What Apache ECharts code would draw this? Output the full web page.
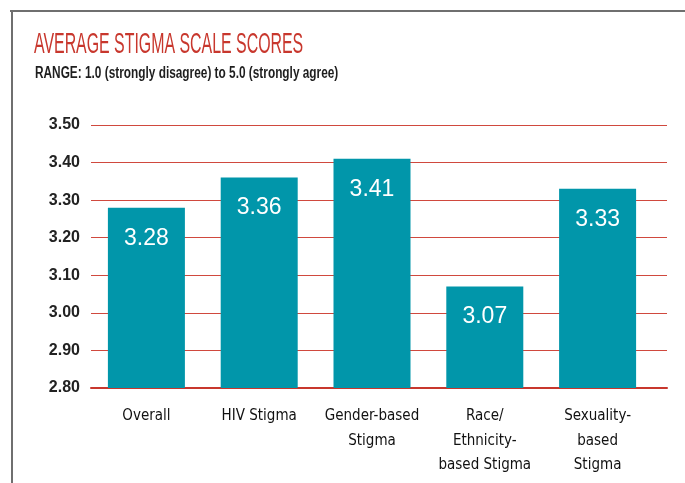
<!DOCTYPE html>
<html>
<head>
<meta charset="utf-8">
<script src="https://cdn.jsdelivr.net/npm/echarts@6/dist/echarts.min.js"></script>
<style>
  html, body { margin: 0; padding: 0; background: #fff; }
  #chart { width: 685px; height: 483px; }
</style>
</head>
<body>
<div id="chart"></div>
<script>
// 标题
const titleText = 'AVERAGE STIGMA SCALE SCORES';
const subtitleText = 'RANGE: 1.0 (strongly disagree) to 5.0 (strongly agree)';
// 类别
const categories = ['Overall', 'HIV Stigma', 'Gender-based\nStigma', 'Race/\nEthnicity-\nbased Stigma', 'Sexuality-\nbased\nStigma'];
// 数值
const scores = [3.28, 3.36, 3.41, 3.07, 3.33];

const chart = echarts.init(document.getElementById('chart'));

const condensed = 'DejaVu Sans Condensed, Liberation Sans Narrow, Liberation Sans';
const gridTop = 125;
const gridBottom = 95;

const option = {
    backgroundColor: '#fff',
    animation: false,
    graphic: [
        // 外框
        { type: 'line', shape: { x1: 10, y1: 11, x2: 685, y2: 11 }, style: { stroke: '#6f6f6f', lineWidth: 2 } },
        { type: 'line', shape: { x1: 12, y1: 10, x2: 12, y2: 483 }, style: { stroke: '#6f6f6f', lineWidth: 2 } },
        // 标题（横向压缩模拟窄字体）
        {
            type: 'text', x: 34, y: 30, scaleX: 0.53,
            style: {
                text: titleText, fill: '#c8372d',
                fontFamily: 'Liberation Sans', fontSize: 30,
                textVerticalAlign: 'top'
            }
        },
        {
            type: 'text', x: 35, y: 66, scaleX: 0.74,
            style: {
                text: subtitleText, fill: '#1e1e1e',
                fontFamily: 'Liberation Sans', fontWeight: 'bold', fontSize: 16,
                textVerticalAlign: 'top'
            }
        }
    ],
    grid: [
        { left: 91, right: 18, top: gridTop, bottom: gridBottom },
        { left: 90, right: 31, top: gridTop, bottom: gridBottom }
    ],
    xAxis: [
        {
            gridIndex: 0,
            type: 'category',
            data: categories,
            axisLine: { lineStyle: { color: '#c8372d', width: 2 } },
            axisTick: { show: false },
            axisLabel: { show: false }
        },
        {
            gridIndex: 1,
            type: 'category',
            data: categories,
            axisLine: { show: false },
            axisTick: { show: false },
            axisLabel: {
                margin: 16,
                fontFamily: condensed,
                fontSize: 15,
                lineHeight: 24.5,
                color: '#111',
                interval: 0
            }
        }
    ],
    yAxis: [
        {
            gridIndex: 0,
            type: 'value',
            min: 2.8,
            max: 3.5,
            interval: 0.1,
            axisLine: { show: false },
            axisTick: { show: false },
            axisLabel: {
                margin: 11,
                fontFamily: 'Liberation Sans, Arial, sans-serif',
                fontWeight: 'bold',
                fontSize: 16,
                color: '#222',
                formatter: v => v.toFixed(2)
            },
            splitLine: { lineStyle: { color: '#d0493e', width: 1 } }
        },
        {
            gridIndex: 1,
            type: 'value',
            min: 2.8,
            max: 3.5,
            interval: 0.1,
            axisLine: { show: false },
            axisTick: { show: false },
            axisLabel: { show: false },
            splitLine: { show: false }
        }
    ],
    series: [
        {
            type: 'bar',
            xAxisIndex: 1,
            yAxisIndex: 1,
            data: scores,
            barWidth: 77,
            itemStyle: { color: '#0196aa' },
            label: {
                show: true,
                position: 'insideTop',
                distance: 19,
                color: '#fff',
                fontFamily: 'Liberation Sans, Arial, sans-serif',
                fontSize: 23,
                formatter: p => p.value.toFixed(2)
            }
        }
    ]
};

chart.setOption(option);
</script>
</body>
</html>
